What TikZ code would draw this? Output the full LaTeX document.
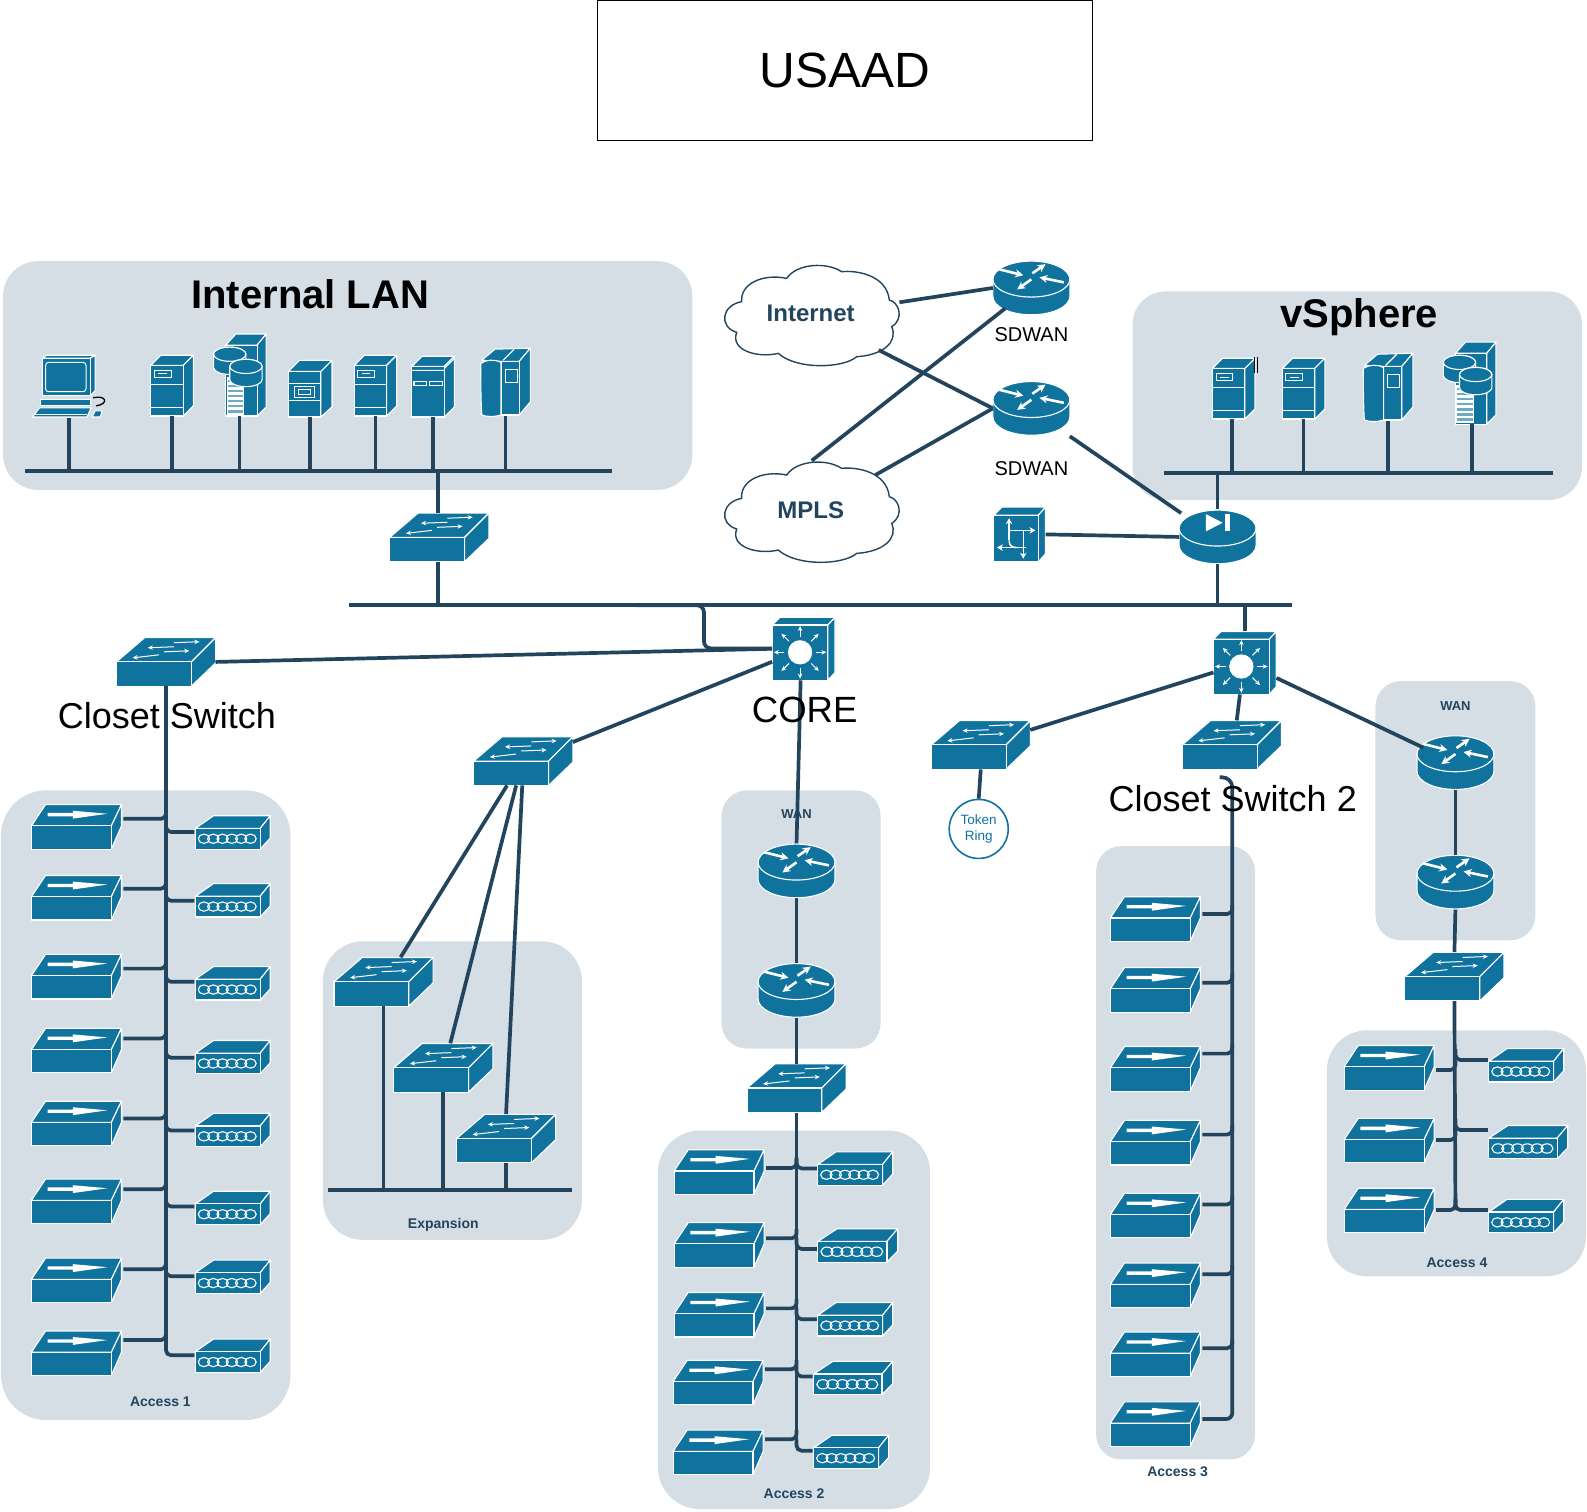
\documentclass[tikz,border=0pt]{standalone}
\usepackage{fontspec}
\setmainfont{Liberation Sans}
\usetikzlibrary{calc,arrows.meta,shapes.geometric}
\definecolor{icb}{HTML}{10739E}
\definecolor{lnk}{HTML}{23445D}
\definecolor{pan}{HTML}{D6DEE5}
\tikzset{
 ic/.style={fill=icb,draw=white,line width=1.1pt,line join=round},
 wl/.style={draw=white,line width=1.1pt},
 wa/.style={draw=white,line width=1pt,-{Stealth[length=5pt,width=4.5pt]}},
 wt/.style={draw=white,line width=1.5pt,-{Stealth[length=6pt,width=6.5pt]}},
 wb/.style={draw=white,line width=2.6pt,-{Stealth[length=8pt,width=8pt]}},
 box/.style={inner sep=0pt,outer sep=0pt},
 link/.style={draw=lnk,line width=3.7pt},
 buss/.style={draw=lnk,line width=4.1pt},
 panel/.style={fill=pan},
 lab/.style={inner sep=0pt,text=lnk,font=\bfseries\fontsize{14}{16}\selectfont},
 big/.style={inner sep=0pt,text=black,font=\fontsize{36}{40}\selectfont},
 sd/.style={inner sep=0pt,text=black,font=\fontsize{20}{22}\selectfont},
}
% workgroup switch
\newcommand{\icSw}[3]{\begin{scope}[shift={(#2,#3)}]
 \node[box,minimum width=99pt,minimum height=49pt] (#1) at (49,24) {};
 \path[ic] (0,24)--(28,0)--(98,0)--(74,24)--cycle;
 \path[ic] (74,24)--(98,0)--(98,25)--(74,48)--cycle;
 \path[ic] (0,24) rectangle (74,48);
 \draw[wa] (57,9)--(31,10);
 \draw[wa] (57,5)--(82,4);
 \draw[wa] (42,17)--(16,20);
 \draw[wa] (47,14)--(72,13);
\end{scope}}
% access switch, #4 = y of its branch
\newcommand{\icAcc}[4]{\begin{scope}[shift={(#2,#3)}]
 \node[box,minimum width=90pt,minimum height=45pt] (#1) at (44.5,22) {};
 \coordinate (#1-r) at (91,#4-#3);
 \path[ic] (0,21)--(14,0)--(89,0)--(79,21)--cycle;
 \path[ic] (79,21)--(89,0)--(89,21)--(79,44)--cycle;
 \path[ic] (0,21) rectangle (79,44);
 \fill[white] (16,8.2)--(41,8.2)--(41,6)--(75,9)--(41,13.8)--(41,11.5)--(16,11.5)--cycle;
\end{scope}}
% modem, #4 = y of its branch, #5 = width
\newcommand{\icMdm}[5]{\begin{scope}[shift={(#2,#3)}]
 \node[box,minimum width=#5pt,minimum height=33pt] (#1) at (#5/2,16.5) {};
 \coordinate (#1-l) at (-1,#4-#3);
 \begin{scope}[xscale=#5/74]
 \path[ic] (0,12.5)--(18,0)--(74,0)--(64,12.5)--cycle;
 \path[ic] (64,12.5)--(74,0)--(74,22)--(64,33)--cycle;
 \path[ic] (0,12.5) rectangle (64,33);
 \foreach \ka in {0,...,5}{\draw[white,line width=1.1pt] (8.5+\ka*9.2,22.7) ellipse [x radius=5.6,y radius=4.6];}
 \end{scope}
\end{scope}}
% router body
\newcommand{\icCyl}[3]{\begin{scope}[shift={(#2,#3)}]
 \node[box,shape=ellipse,minimum width=77pt,minimum height=55pt] (#1) at (38,26.5) {};
 \path[ic] (0,18)--(0,35) arc[start angle=180,end angle=0,x radius=38,y radius=18]--(76,18)
   arc[start angle=0,end angle=-180,x radius=38,y radius=18]--cycle;
 \draw[wl] (0,18) arc[start angle=180,end angle=0,x radius=38,y radius=17.5];
\end{scope}}
\newcommand{\icRtr}[3]{\icCyl{#1}{#2}{#3}\begin{scope}[shift={(#2,#3)}]
 \draw[wb] (6,8)--(30,14);
 \draw[wb] (70,21)--(46,16);
 \draw[wb] (38,18)--(24,28);
 \draw[wb] (39,12)--(52,3);
\end{scope}}
% layer 3 core switch
\newcommand{\icCore}[3]{\begin{scope}[shift={(#2,#3)}]
 \node[box,minimum width=63pt,minimum height=63pt] (#1) at (31,31) {};
 \path[ic] (0,7.5)--(7.5,0)--(62,0)--(55,7.5)--cycle;
 \path[ic] (55,7.5)--(62,0)--(62,54.5)--(55,62)--cycle;
 \path[ic] (0,7.5) rectangle (55,62);
 \fill[white] (27.5,34.5) circle (12);
 \foreach \ka in {0,45,...,315}{\draw[wa] ($(27.5,34.5)+(\ka:15.5)$)--($(27.5,34.5)+(\ka:26)$);}
\end{scope}}
% servers
\newcommand{\icSrvA}[3]{\begin{scope}[shift={(#2,#3)}]
 \node[box,minimum width=43pt,minimum height=61pt] (#1) at (21,30) {};
 \path[ic] (0,10)--(10,0)--(42,0)--(32,10)--cycle;
 \path[ic] (32,10)--(42,0)--(42,50)--(32,60)--cycle;
 \path[ic] (0,10) rectangle (32,60);
 \draw[wl] (3.5,15) rectangle (20,22);
 \draw[white,line width=1pt] (7.5,18.5)--(16,18.5);
 \draw[wl] (0,29)--(32,29) (0,52)--(32,52);
\end{scope}}
\newcommand{\icSrvC}[3]{\begin{scope}[shift={(#2,#3)}]
 \node[box,minimum width=44pt,minimum height=57pt] (#1) at (21.5,28) {};
 \path[ic] (0,11)--(11,0)--(43,0)--(32,11)--cycle;
 \path[ic] (32,11)--(43,0)--(43,46)--(32,56)--cycle;
 \path[ic] (0,11) rectangle (32,56);
 \draw[wl] (0,23)--(32,23) (0,40)--(32,40);
 \draw[wl] (6,26) rectangle (26,37);
 \draw[wl] (10,29) rectangle (22,34);
\end{scope}}
\newcommand{\icSrvD}[3]{\begin{scope}[shift={(#2,#3)}]
 \node[box,minimum width=43pt,minimum height=61pt] (#1) at (21,30) {};
 \path[ic] (0,10)--(10,0)--(42,0)--(32,10)--cycle;
 \path[ic] (32,10)--(42,0)--(42,50)--(32,60)--cycle;
 \path[ic] (0,10) rectangle (32,60);
 \draw[wl] (0,14)--(32,14) (32,12)--(42,2);
 \draw[wl] (2,25) rectangle (14,29);
 \draw[wl] (17,25) rectangle (30,29);
\end{scope}}
\newcommand{\icSrvE}[3]{\begin{scope}[shift={(#2,#3)}]
 \node[box,minimum width=50pt,minimum height=68pt] (#1) at (24.5,33.5) {};
 \path[ic] (1,12)--(14,1)--(49,0)--(38,13)--(20,13)--cycle;
 \draw[wl] (22,12)--(33,1);
 \path[ic] (38,13)--(49,0)--(49,53)--(38,66)--cycle;
 \path[ic] (20,13) rectangle (38,66);
 \path[ic] (0,15) .. controls (6,11) and (14,11) .. (20,14)--(20,66) .. controls (14,68) and (6,68) .. (1,66) .. controls (0,50) and (0,30) .. (0,15)--cycle;
 \draw[wl] (24,21) rectangle (36,34);
\end{scope}}
\newcommand{\icCy}[2]{\path[ic] (#1-16,#2)--(#1-16,#2+13) arc[start angle=180,end angle=0,x radius=16,y radius=7]--(#1+16,#2)
   arc[start angle=0,end angle=-180,x radius=16,y radius=7]--cycle;
 \path[ic] (#1,#2) ellipse [x radius=16,y radius=7];}
\newcommand{\icSrvB}[3]{\begin{scope}[shift={(#2,#3)}]
 \node[box,minimum width=54pt,minimum height=82pt] (#1) at (26.5,40.5) {};
 \path[ic] (13,11)--(23,0)--(53,0)--(44,11)--cycle;
 \path[ic] (44,11)--(53,0)--(53,72)--(44,81)--cycle;
 \path[ic] (13,11) rectangle (44,81);
 \fill[white] (14,42) rectangle (31,80);
 \foreach \ka in {45,50,...,75}{\fill[icb!60] (15,\ka) rectangle (30,\ka+2.6);}
 \icCy{17}{20}
 \icCy{33}{32}
\end{scope}}
\newcommand{\icPc}[3]{\begin{scope}[shift={(#2,#3)}]
 \node[box,minimum width=72pt,minimum height=63pt] (#1) at (36,31) {};
 \draw[black,line width=1.3pt] (60,42) .. controls (73,39) and (76,48) .. (63,50);
 \path[ic] (10,3)--(14,0)--(62,0)--(57,3)--cycle;
 \path[ic] (57,3)--(62,0)--(62,35)--(57,40)--cycle;
 \path[ic] (10,3) rectangle (57,40);
 \draw[white,line width=1pt,rounded corners=3pt] (13,7) rectangle (53,36);
 \path[ic] (8,44) rectangle (57,50);
 \path[ic] (0,61)--(7,52)--(58,52)--(54,61)--cycle;
 \draw[white,line width=1pt] (2,59)--(54,59);
 \path[ic] (59,61)--(62,55)--(69,55)--(67,61)--cycle;
\end{scope}}
\newcommand{\icCloud}[4]{\begin{scope}[shift={(711.4,#2)},scale=0.3293]
 \path[fill=white,draw=lnk,line width=1.4pt] (65,140) .. controls (60,85) and (130,55) .. (200,70)
 .. controls (230,25) and (320,20) .. (365,50) .. controls (410,45) and (500,60) .. (508,135)
 .. controls (535,140) and (555,190) .. (515,215) .. controls (535,260) and (490,300) .. (410,305)
 .. controls (370,340) and (230,345) .. (175,295) .. controls (110,310) and (30,285) .. (50,232)
 .. controls (-5,215) and (5,150) .. (65,140) -- cycle;
\end{scope}
\node[box,shape=ellipse,minimum width=182pt,minimum height=101pt,text=lnk,font=\bfseries\fontsize{24}{26}\selectfont] (#1) at (802,#3) {#4};}
\newcommand{\brS}[2]{\draw[link,rounded corners=5pt] (#1-r) -- (#1-r -| #2) -- ($(#1-r -| #2)+(0,-9)$);}
\newcommand{\brM}[2]{\draw[link,rounded corners=5pt] ($(#1-l -| #2)+(0,-11)$) -- (#1-l -| #2) -- (#1-l);}
\begin{document}
\begin{tikzpicture}[x=1.0121pt,y=-1.0121pt]
\useasboundingbox (0,0) rectangle (1568,1493);
% panels
\path[panel,rounded corners=35pt] (3,258) rectangle (684,484);
\path[panel,rounded corners=33pt] (1119,288) rectangle (1563,494);
\path[panel,rounded corners=45pt] (1,781) rectangle (287,1403);
\path[panel,rounded corners=40pt] (319,930) rectangle (575,1225);
\path[panel,rounded corners=25pt] (713,781) rectangle (870,1036);
\path[panel,rounded corners=42pt] (650,1117) rectangle (919,1491);
\path[panel,rounded corners=25pt] (1083,836) rectangle (1240,1442);
\path[panel,rounded corners=25pt] (1359,673) rectangle (1517,929);
\path[panel,rounded corners=40pt] (1311,1018) rectangle (1567,1261);
% title
\node[draw=black,line width=0.9pt,minimum width=495pt,minimum height=139.5pt,inner sep=0pt,font=\fontsize{49.5}{54}\selectfont] (title) at (834.5,69.4) {USAAD};
% clouds
\icCloud{inet}{252}{312}{}
\icCloud{mpls}{446.3}{505}{}
% devices
\icRtr{sda}{981}{258}
\icRtr{sdb}{981}{377}
\icCyl{fw}{1165}{504}
\begin{scope}[shift={(1165,504)}]
 \fill[white] (26.5,4)--(43,12.5)--(26.5,21)--cycle;
 \fill[white] (45,4) rectangle (50,21);
\end{scope}
\begin{scope}[shift={(982,501)}]
 \node[box,minimum width=52pt,minimum height=55pt] (tow) at (25.5,27) {};
 \path[ic] (0,8)--(8,0)--(51,0)--(44,8)--cycle;
 \path[ic] (44,8)--(51,0)--(51,46)--(44,54)--cycle;
 \path[ic] (0,8) rectangle (44,54);
 \draw[wt] (15,33)--(15,11);
 \draw[wt] (15,23)--(41,23);
 \draw[wt] (32,40)--(3,40);
 \draw[wt] (29,23)--(29,51);
 \draw[white,line width=1.5pt] (15,33) .. controls (15,38) and (18,40) .. (22,40);
\end{scope}
\icSw{lansw}{385}{507}
\icSw{closet}{115}{630}
\icSw{expsw}{468}{728}
\icSw{exa}{330}{946}
\icSw{exb}{389}{1031}
\icSw{exc}{451}{1101}
\icSw{wsa}{738}{1051}
\icSw{trsw}{920}{712}
\icSw{cs2}{1168}{712}
\icSw{wsb}{1388}{941}
\icCore{corea}{763}{610}
\icCore{coreb}{1199}{624}
\icRtr{wa1}{749}{834}
\icRtr{wa2}{749}{952}
\icRtr{wb1}{1400}{727}
\icRtr{wb2}{1400}{845}
% LAN servers
\icPc{pc}{32}{351}
\icSrvA{la}{149}{351}
\icSrvB{lb}{210}{330}
\icSrvC{lc}{285}{356}
\icSrvA{ld}{350}{351}
\icSrvD{le}{407}{352}
\icSrvE{lf}{475}{344}
% vSphere
\icSrvA{va}{1198}{354}
\icSrvA{vb}{1267}{354}
\icSrvE{vc}{1347}{349}
\icSrvB{vd}{1425}{338}
\draw[black,line width=.6pt] (1239,353)--(1239,369) (1242,353)--(1242,369);
% access devices
\foreach \ka/\pa/\pb in {1/795/809,2/865/878,3/943/957,4/1016/1026,5/1088/1105,6/1165/1175,7/1243/1254,8/1315/1324}{\icAcc{aa\ka}{31}{\pa}{\pb}}
\foreach \ka/\pa/\pb in {1/806/822,2/873/890,3/955/970,4/1028/1045,5/1100/1117,6/1177/1192,7/1245/1261,8/1323/1339}{\icMdm{am\ka}{193}{\pa}{\pb}{74}}
\foreach \ka/\pa/\pb/\pc in {1/666/1136/1154,2/666/1208/1223.5,3/666/1277/1292.7,4/665/1344/1352.8,5/665/1413/1422}{\icAcc{ba\ka}{\pa}{\pb}{\pc}}
\icMdm{bm1}{808}{1138}{1154.4}{74}
\icMdm{bm2}{808}{1214}{1234}{79}
\icMdm{bm3}{808}{1287}{1303.4}{74}
\icMdm{bm4}{804}{1345}{1360}{78}
\icMdm{bm5}{804}{1418}{1433.3}{74}
\foreach \ka/\pa/\pb in {1/886/903,2/956/971,3/1034/1041,4/1107/1121,5/1179/1190,6/1248/1259,7/1316/1332,8/1385/1402}{\icAcc{ca\ka}{1097}{\pa}{\pb}}
\foreach \ka/\pa/\pb in {1/1033/1057.2,2/1105/1126.4,3/1174/1195.5}{\icAcc{da\ka}{1328}{\pa}{\pb}}
\icMdm{dm1}{1471}{1036}{1047.3}{74}
\icMdm{dm2}{1471}{1112}{1116.5}{78}
\icMdm{dm3}{1471}{1185}{1195.5}{74}
% token ring
\node[draw=icb,fill=white,circle,line width=1.6pt,minimum size=59pt,inner sep=0pt,align=center,text=icb,font=\fontsize{13.5}{16}\selectfont] (tr) at (967,819) {\rule{0pt}{3pt}Token\\Ring};
% buses
\coordinate (lbL) at (25,465); \coordinate (lbR) at (605,465);
\coordinate (vbL) at (1150,467); \coordinate (vbR) at (1534,467);
\coordinate (mbL) at (345,598); \coordinate (mbR) at (1277,598);
\coordinate (ebL) at (324,1176); \coordinate (ebR) at (565,1176);
\draw[buss] (lbL)--(lbR);
\draw[buss] (vbL)--(vbR);
\draw[buss] (mbL)--(mbR);
\draw[buss] (ebL)--(ebR);
\foreach \ka in {pc,la,lb,lc,ld,le,lf}{\draw[link] (\ka.south)--(\ka.south |- lbL);}
\draw[link] ([xshift=-2pt]va.south)--([xshift=-2pt]va.south |- vbL);
\draw[link] (vb.south)--(vb.south |- vbL);
\draw[link] (vc.south)--(vc.south |- vbL);
\draw[link] ([xshift=3pt]vd.south)--([xshift=3pt]vd.south |- vbL);
\draw[link] ([xshift=-1pt]lansw.north)--([xshift=-1pt]lansw.north |- lbL);
\draw[link] ([xshift=-1pt]lansw.south)--([xshift=-1pt]lansw.south |- mbL);
\draw[link] (fw.north)--(fw.north |- vbL);
\draw[link] (fw.south)--(fw.south |- mbL);
\draw[link] (coreb.north)--(coreb.north |- mbL);
\coordinate (cka) at (628,598); \coordinate (ckb) at (695.5,640.6);
\draw[link,rounded corners=7pt] (cka)--(cka -| ckb)--(ckb)--(ckb -| corea.west);
\draw[link] (closet.east)--(corea.west);
\draw[link] ([yshift=19pt]expsw.east)--([yshift=-13pt]corea.west);
\draw[link] ([xshift=-3pt]corea.south)--(wa1.north);
\draw[link] ([yshift=15pt]trsw.east)--([yshift=-9.5pt]coreb.west);
\draw[link] ([xshift=-5pt]coreb.south)--([xshift=5pt]cs2.north);
\draw[link] ([yshift=-15pt]coreb.east)--(wb1.155);
\draw[link] (trsw.south)--(tr.north);
\draw[link] (inet)--(sda.west);
\draw[link] (inet)--(sdb.west);
\draw[link] (mpls.north)--(sda.218);
\draw[link] (mpls)--(sdb.west);
\coordinate (sdo) at (1057,431); \coordinate (fwi) at (1167,507);
\draw[link] (sdo)--(fwi);
\draw[link] (tow.east)--(fw.west);
\draw[link] (wa1.south)--(wa2.north);
\draw[link] (wa2.south)--(wsa.north);
\draw[link] (wb1.south)--(wb2.north);
\draw[link] (wb2.south)--(wsb.north);
\coordinate (xa) at (501,776); \coordinate (xb) at (510,776); \coordinate (xc) at (516,776);
\draw[link] (xa)--([xshift=17pt]exa.north);
\draw[link] (xb)--([xshift=7pt]exb.north);
\draw[link] (xc)--(exc.north);
\foreach \ka in {exa,exb,exc}{\draw[link] (\ka.south)--(\ka.south |- ebL);}
% access buses
\coordinate (busa) at (164,1331);
\draw[link] (closet.south)--(busa);
\foreach \ka in {1,...,8}{\brS{aa\ka}{busa}\brM{am\ka}{busa}}
\coordinate (busb) at (787,1424);
\draw[link] (wsa.south)--(busb);
\foreach \ka in {1,...,5}{\brS{ba\ka}{busb}\brM{bm\ka}{busb}}
\coordinate (busc) at (1217.5,1394);
\coordinate (cst) at (1205,768);
\draw[link,rounded corners=10pt] (cst)--(cst -| busc)--(busc);
\foreach \ka in {1,...,7}{\brS{ca\ka}{busc}}
\draw[link,rounded corners=6pt] (ca8-r)--(ca8-r -| busc)--(busc);
\coordinate (busd) at (1438,1188);
\draw[link] (wsb.south)--(busd);
\foreach \ka in {1,2,3}{\brS{da\ka}{busd}\brM{dm\ka}{busd}}
% labels
\node[inner sep=0pt,font=\bfseries\fontsize{40}{44}\selectfont] (tlan) at (306.5,290.5) {Internal LAN};
\node[inner sep=0pt,font=\bfseries\fontsize{40}{44}\selectfont] (tvs) at (1343,313) {vSphere};
\node[box,text=lnk,font=\bfseries\fontsize{24}{26}\selectfont] (tinet) at (801,310) {Internet};
\node[box,text=lnk,font=\bfseries\fontsize{24}{26}\selectfont] (tmpls) at (801,504) {MPLS};
\node[sd] (tsa) at (1019,331) {SDWAN};
\node[sd] (tsb) at (1019,463) {SDWAN};
\node[big] (tcl) at (165,707) {Closet Switch};
\node[big,font=\fontsize{36.5}{40}\selectfont] (tco) at (795,701) {CORE};
\node[big] (tc2) at (1218,789) {Closet Switch 2};
\node[lab,font=\bfseries\fontsize{13}{15}\selectfont] (twa) at (787,804.5) {WAN};
\node[lab,font=\bfseries\fontsize{13}{15}\selectfont] (twb) at (1438,697.5) {WAN};
\node[lab] (tac1) at (158.5,1385) {Access 1};
\node[lab] (tac2) at (784.5,1476) {Access 2};
\node[lab] (tac3) at (1163.5,1454) {Access 3};
\node[lab] (tac4) at (1439.5,1248) {Access 4};
\node[lab] (texp) at (438,1210) {Expansion};
\end{tikzpicture}
\end{document}
